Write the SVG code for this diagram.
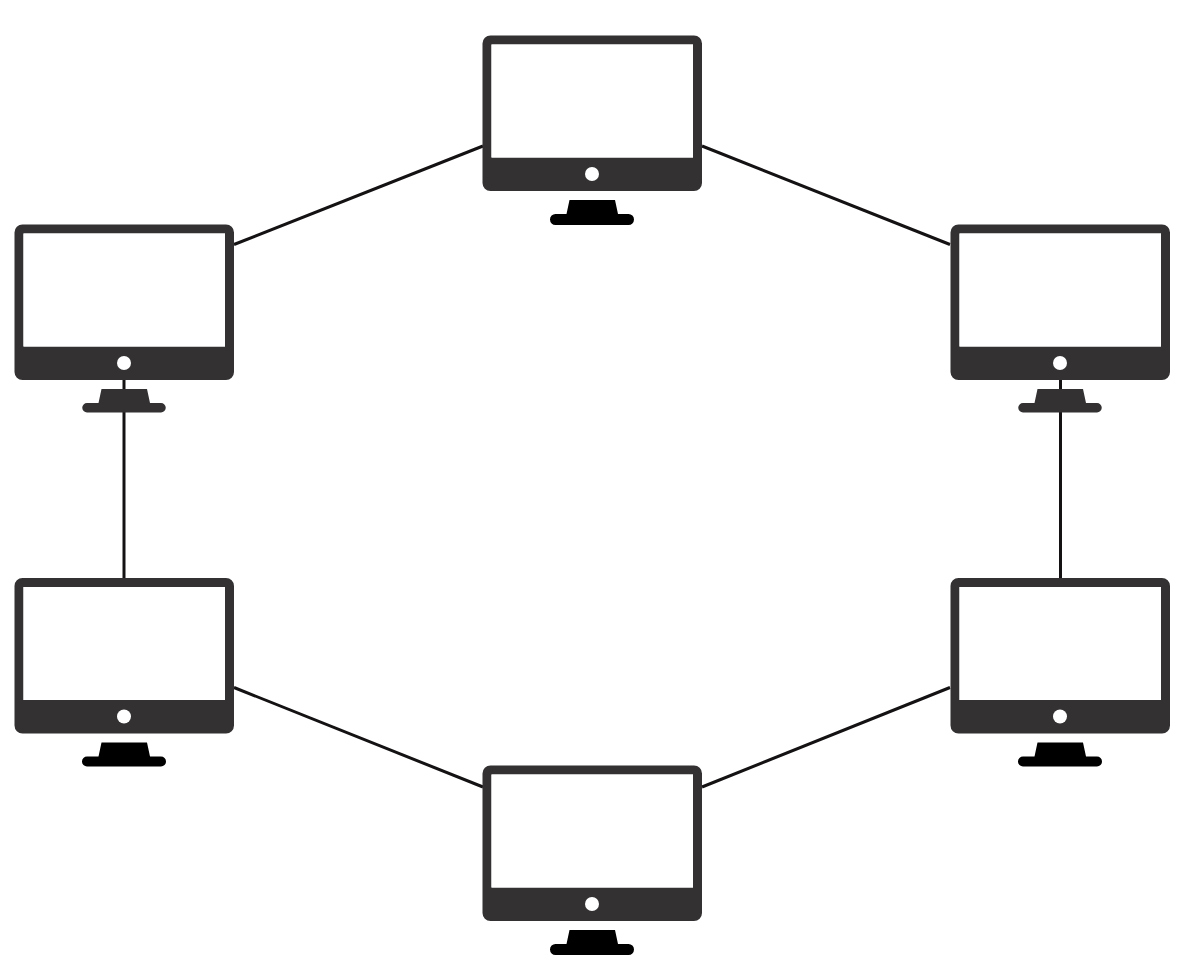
<svg xmlns="http://www.w3.org/2000/svg" width="1190" height="974" viewBox="0 0 1190 974">
<style>
.link{stroke:#141213;stroke-width:3;fill:none}
.body{fill:#333132}
.screen{fill:#fff}
.stand{fill:#000}
.stand.grey{fill:#333132}
</style>
<defs>
<g id="monitor">
<path class="body" fill-rule="evenodd" d="M490.500 35.500H694a8 8 0 0 1 8 8V183a8 8 0 0 1-8 8H490.500a8 8 0 0 1-8-8V43.500a8 8 0 0 1 8-8ZM491.500 44.500V157.500H693V44.500Z"/>
<rect class="screen" x="491.500" y="44.500" width="201.500" height="113"/>
<circle class="screen" cx="592" cy="174" r="7"/>
</g>
</defs>
<rect width="1190" height="974" fill="#fff"/>
<g id="connectors">
<line class="link" x1="234" y1="244.500" x2="483" y2="146"/>
<line class="link" x1="702" y1="146" x2="950" y2="244.500"/>
<line class="link" x1="124" y1="380" x2="124" y2="578"/>
<line class="link" x1="1060.500" y1="380" x2="1060.500" y2="578"/>
<line class="link" x1="234" y1="687.500" x2="483" y2="787"/>
<line class="link" x1="702" y1="787" x2="950" y2="687.500"/>
</g>
<g id="node-top">
<use href="#monitor"/>
<path class="stand" d="M569.500 200H615L618 214H628.500a5.500 5.500 0 0 1 0 11H555.500a5.500 5.500 0 0 1 0-11H566.500Z"/>
</g>
<g id="node-upper-left" transform="translate(-468 189)">
<use href="#monitor"/>
<path class="stand grey" d="M569.500 200H615L618 214H629a4.500 4.500 0 0 1 0 9.500H555a4.500 4.500 0 0 1 0-9.500H566.500Z"/>
</g>
<g id="node-upper-right" transform="translate(468 189)">
<use href="#monitor"/>
<path class="stand grey" d="M569.500 200H615L618 214H629a4.500 4.500 0 0 1 0 9.500H555a4.500 4.500 0 0 1 0-9.500H566.500Z"/>
</g>
<g id="node-lower-left" transform="translate(-468 542.500)">
<use href="#monitor"/>
<path class="stand" d="M569.500 200H615L618 214H629a5 5 0 0 1 0 10H555a5 5 0 0 1 0-10H566.500Z"/>
</g>
<g id="node-lower-right" transform="translate(468 542.500)">
<use href="#monitor"/>
<path class="stand" d="M569.500 200H615L618 214H629a5 5 0 0 1 0 10H555a5 5 0 0 1 0-10H566.500Z"/>
</g>
<g id="node-bottom" transform="translate(0 730)">
<use href="#monitor"/>
<path class="stand" d="M569.500 200H615L618 214H628.500a5.500 5.500 0 0 1 0 11H555.500a5.500 5.500 0 0 1 0-11H566.500Z"/>
</g>
</svg>
